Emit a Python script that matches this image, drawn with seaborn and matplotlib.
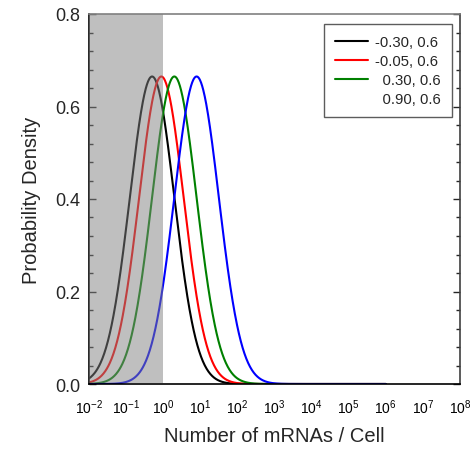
import numpy as np
import pandas as pd
import seaborn as sns
import matplotlib
matplotlib.use("Agg")
import matplotlib.pyplot as plt
from matplotlib.ticker import FixedLocator, MultipleLocator, FixedFormatter
from matplotlib.lines import Line2D

# Parameters of each curve (log10 mean, log10 sd) as given in the legend
series_labels = ["-0.30, 0.6", "-0.05, 0.6", "0.30, 0.6", "0.90, 0.6"]
log_means = [-0.30, -0.05, 0.30, 0.90]
log_sds = [0.6, 0.6, 0.6, 0.6]
colors = ["#000000", "#ff0000", "#008000", "#0000ff"]
x_range_exp = [-2, 6]
x_tick_exps = [-2, -1, 0, 1, 2, 3, 4, 5, 6, 7, 8]
y_ticks = [0.0, 0.2, 0.4, 0.6, 0.8]
shade_range = [1e-2, 1e0]

sns.set_style("white")
plt.rcParams['font.family'] = ['Liberation Sans', 'DejaVu Sans']
plt.rcParams['mathtext.fontset'] = 'custom'
plt.rcParams['mathtext.rm'] = 'Liberation Sans'

rows = []
grid = np.linspace(x_range_exp[0], x_range_exp[1], 801)
for lab, m, s in zip(series_labels, log_means, log_sds):
    dens = np.exp(-0.5 * ((grid - m) / s) ** 2) / (s * np.sqrt(2 * np.pi))
    for g, d in zip(grid, dens):
        rows.append({"x": 10 ** g, "density": d, "series": lab})
df = pd.DataFrame(rows)

fig = plt.figure(figsize=(4.7, 4.52), dpi=100)
ax = fig.add_axes([89/470, 1 - 385/452, (460-89)/470, (385-15)/452])

sns.lineplot(data=df, x="x", y="density", hue="series", palette=colors,
             hue_order=series_labels, ax=ax, linewidth=1.5, legend=False)
ax.set_xscale("log")
ax.set_xlim(1e-2, 1e8)
ax.set_ylim(0, 0.8)

ax.axvspan(shade_range[0], shade_range[1], ymin=0.004, ymax=1, color="#808080",
           alpha=0.5, lw=0, zorder=3)

ax.xaxis.set_major_locator(FixedLocator([10.0 ** e for e in x_tick_exps]))
ax.xaxis.set_major_formatter(FixedFormatter([r"$\mathregular{10^{%d}}$" % e for e in x_tick_exps]))
ax.xaxis.set_minor_locator(FixedLocator([]))
ax.set_yticks(y_ticks)
ax.set_yticklabels([f"{v:.1f}" for v in y_ticks])
ax.yaxis.set_minor_locator(MultipleLocator(0.04))

ax.tick_params(axis="x", which="major", direction="out", length=5, width=1,
               labelsize=10, pad=5, colors="black")
ax.tick_params(axis="y", which="both", direction="in", right=True, left=True,
               labelsize=13, pad=6)
ax.tick_params(axis="y", which="major", length=5, width=1)
ax.tick_params(axis="y", which="minor", length=3, width=1)

for side in ["left", "bottom"]:
    ax.spines[side].set_color("black")
    ax.spines[side].set_linewidth(1.2)
ax.spines["top"].set_color("#808080")
ax.spines["top"].set_linewidth(1.2)
ax.spines["right"].set_color("#404040")
ax.spines["right"].set_linewidth(1.2)

ax.set_xlabel("Number of mRNAs / Cell", fontsize=14.5)
ax.set_ylabel("Probability Density", fontsize=14.5)
ax.xaxis.set_label_coords(0.5, (385 - 427) / 370)
ax.yaxis.set_label_coords((41 - 89) / 371, 0.5)

handles = [Line2D([], [], color=c, lw=1.5) for c in colors[:3]] + \
          [Line2D([], [], color="none", lw=1.5)]
labels = [series_labels[0], series_labels[1], "\u2002" + series_labels[2], "\u2002" + series_labels[3]]
leg = ax.legend(handles, labels, loc="upper right", bbox_to_anchor=(1 - 8/371, 1 - 10/370),
                fontsize=10.7, frameon=True, fancybox=False, edgecolor="#333333",
                handlelength=2.2, handletextpad=0.5, borderpad=0.75,
                labelspacing=0.33, borderaxespad=0)
leg.get_frame().set_linewidth(1.0)

fig.savefig("out.png", dpi=100)
